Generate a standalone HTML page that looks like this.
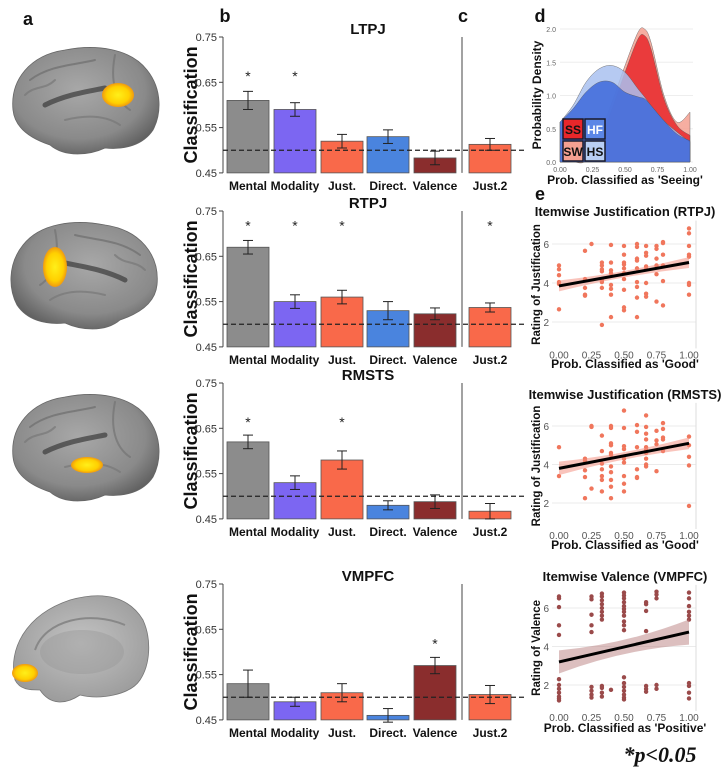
<!DOCTYPE html>
<html><head><meta charset="utf-8"><style>
html,body{margin:0;padding:0;background:#fff;}
svg{display:block;font-family:"Liberation Sans",Arial,sans-serif;}
</style></head><body>
<svg id="fig" width="721" height="774" viewBox="0 0 721 774" xmlns="http://www.w3.org/2000/svg">
<defs>
<radialGradient id="gbrain" cx="45%" cy="40%" r="65%"><stop offset="0" stop-color="#a8a8a8"/><stop offset="0.7" stop-color="#8a8a8a"/><stop offset="1" stop-color="#5e5e5e"/></radialGradient>
<radialGradient id="gmed" cx="50%" cy="45%" r="60%"><stop offset="0" stop-color="#c4c4c4"/><stop offset="1" stop-color="#9a9a9a"/></radialGradient>
<radialGradient id="gyel" cx="50%" cy="50%" r="50%"><stop offset="0" stop-color="#ffef1a"/><stop offset="0.7" stop-color="#ffd000"/><stop offset="1" stop-color="#f09a10"/></radialGradient>
</defs>
<g id="brains"></g>
<g id="bars"></g>
<g id="dens"></g>
<g id="scat"></g>
<text x="660" y="762" text-anchor="middle" font-family="Liberation Serif,serif" font-style="italic" font-weight="bold" font-size="22" fill="#111">*p&lt;0.05</text>
</svg>
<script>
const NS="http://www.w3.org/2000/svg";
function mk(parent,tag,attrs,txt){const e=document.createElementNS(NS,tag);for(const k in attrs)e.setAttribute(k,attrs[k]);if(txt!==undefined)e.textContent=txt;parent.appendChild(e);return e;}

// ---------- bar chart data ----------
const categories=["Mental","Modality","Just.","Direct.","Valence","Just.2"];
const regions=["LTPJ","RTPJ","RMSTS","VMPFC"];
const ltpjValues=[0.61,0.59,0.52,0.53,0.483,0.513];
const ltpjErrors=[0.02,0.015,0.015,0.015,0.015,0.013];
const ltpjSig=[1,1,0,0,0,0];
const rtpjValues=[0.67,0.55,0.56,0.53,0.523,0.537];
const rtpjErrors=[0.015,0.015,0.015,0.02,0.013,0.01];
const rtpjSig=[1,1,1,0,0,1];
const rmstsValues=[0.62,0.53,0.58,0.48,0.488,0.467];
const rmstsErrors=[0.015,0.015,0.02,0.01,0.015,0.017];
const rmstsSig=[1,0,1,0,0,0];
const vmpfcValues=[0.53,0.49,0.51,0.46,0.57,0.506];
const vmpfcErrors=[0.03,0.01,0.02,0.015,0.018,0.02];
const vmpfcSig=[0,0,0,0,1,0];
const starLevels=[0.67,0.725,0.67,0.625];
const yTicks=[0.75,0.65,0.55,0.45];
const chanceLevel=0.5;

// ---------- density data ----------
const densX=[0,0.1,0.2,0.3,0.4,0.5,0.6,0.65,0.7,0.8,0.9,1.0];
const densHS=[0.6,0.85,1.2,1.4,1.45,1.35,1.1,0.98,0.85,0.62,0.45,0.3];
const densHF=[0.6,0.8,1.05,1.2,1.2,1.05,0.98,0.95,0.85,0.62,0.42,0.32];
const densSW=[0,0,0.02,0.4,0.9,1.45,1.95,2.0,1.8,1.0,0.6,0.75];
const densSS=[0,0,0.02,0.3,0.8,1.35,1.85,1.9,1.7,0.95,0.55,0.4];
const densTicksX=[0,0.25,0.5,0.75,1.0];
const densTicksY=[0,0.5,1.0,1.5,2.0];

// ---------- scatter data ----------
const rtpjX=[0,0,0,0,0,0, .2,.2,.2,.2,.2, .25, .33,.33,.33,.33,.33,.33,.33,.33, .4,.4,.4,.4,.4,.4,.4,.4, .5,.5,.5,.5,.5,.5,.5,.5,.5,.5, .6,.6,.6,.6,.6,.6,.6,.6,.6, .67,.67,.67,.67,.67,.67,.67,.67, .75,.75,.75,.75,.75,.75, .8,.8,.8,.8,.8,.8, 1,1,1,1,1,1,1,1];
const rtpjY=[4.9,4.7,4.4,4.05,3.95,2.65, 5.65,4.2,3.75,3.4,3.35, 6.0, 5.05,4.9,4.7,4.6,4.15,4.05,3.75,1.85, 5.95,5.05,4.65,4.5,3.9,3.7,3.4,2.25, 5.9,5.45,5.05,4.95,4.75,4.5,4.2,3.65,2.75,2.6, 6.0,5.85,5.25,5.15,4.75,4.05,3.8,3.25,2.25, 5.9,5.55,5.4,4.85,4.7,4.0,3.45,3.3, 5.9,5.75,5.25,4.9,4.45,3.05, 6.1,6.05,5.45,4.9,4.1,2.85, 6.8,6.55,5.9,5.45,5.35,4.0,3.9,3.4];
const rtpjFit=[3.85,5.05];
const rtpjCI=[0.28,0.28];
const rmstsX=[0,0, .2,.2,.2,.2,.2, .25,.25,.25, .33,.33,.33,.33,.33,.33,.33, .4,.4,.4,.4,.4,.4,.4,.4,.4,.4,.4, .5,.5,.5,.5,.5,.5,.5,.5,.5, .6,.6,.6,.6,.6,.6, .67,.67,.67,.67,.67,.67,.67,.67,.67,.67, .75,.75,.75,.75, .8,.8,.8,.8,.8, 1,1,1,1,1];
const rmstsY=[4.9,3.4, 4.3,4.2,3.7,3.35,2.25, 6.0,5.95,2.75, 5.5,4.7,4.05,3.75,3.4,3.2,2.6, 6.0,5.9,5.1,5.0,4.6,4.5,3.9,3.6,3.2,2.85,2.25, 6.8,5.9,4.95,4.8,4.3,4.1,3.4,3.0,2.6, 6.05,5.7,4.9,3.75,3.35,3.3, 6.55,5.95,5.6,5.3,4.9,4.75,4.6,4.3,4.0,3.9, 5.75,5.25,5.05,3.65, 6.15,5.85,5.4,5.3,4.7, 5.45,5.0,4.4,3.95,1.85];
const rmstsFit=[3.8,5.1];
const rmstsCI=[0.35,0.3];
const vmpfcX=[0,0,0,0,0,0,0,0,0,0,0,0, .25,.25,.25,.25,.25,.25,.25,.25,.25, .33,.33,.33,.33,.33,.33,.33,.33,.33,.33,.33,.33, .4, .5,.5,.5,.5,.5,.5,.5,.5,.5,.5,.5,.5,.5,.5,.5,.5,.5,.5, .67,.67,.67,.67,.67,.67,.67, .75,.75,.75,.75,.75, 1,1,1,1,1,1,1,1,1,1];
const vmpfcY=[6.6,6.5,6.05,5.1,4.6,2.3,2.0,1.8,1.6,1.4,1.3,1.2, 6.6,6.45,5.65,5.1,4.75,1.9,1.7,1.5,1.35, 6.75,6.6,6.4,6.2,6.0,5.8,5.6,5.4,1.95,1.85,1.6,1.4, 1.75, 6.8,6.65,6.5,6.3,6.1,5.95,5.8,5.6,5.3,5.1,4.85,2.4,2.1,1.9,1.7,1.5,1.35,1.25, 6.3,6.2,5.85,4.8,1.95,1.8,1.65, 6.85,6.7,6.5,2.0,1.8, 6.8,6.5,6.1,5.8,5.6,5.4,2.1,1.95,1.6,1.3];
const vmpfcFit=[3.2,4.75];
const vmpfcCI=[0.6,0.65];
const scatTicksX=[0,0.25,0.5,0.75,1.0];
const scatTicksY=[2,4,6];

const svg=document.getElementById('fig');

// ---------- panel letters ----------
[["a",28,25],["b",225,22],["c",463,22],["d",540,22],["e",540,200]].forEach(p=>{
  const t=mk(svg,'text',{x:p[1],y:p[2],'font-size':18,'font-weight':'bold',fill:'#111','text-anchor':'middle'},p[0]);
  
  
});

// ---------- brains ----------
const gB=document.getElementById('brains');
function lateral(cx,cy,flip,blob){
  const g=mk(gB,'g',{transform:`translate(${cx},${cy}) scale(${flip},1)`});
  
  
  mk(g,'path',{d:"M-72,10 C-75,-20 -55,-45 -20,-50 C10,-56 45,-52 62,-30 C78,-10 76,15 68,30 C58,45 40,50 20,48 C5,55 -20,58 -35,45 C-50,40 -70,30 -72,10 Z",fill:'url(#gbrain)',stroke:'#666','stroke-width':0.8});
  [["M-55,-20 C-35,-35 -10,-35 10,-40","#6d6d6d"],["M-40,5 C-20,-5 0,-8 20,-12","#3a3a3a"],["M-20,20 C0,15 20,15 35,25","#777"],["M30,-45 C25,-20 30,0 45,10","#737373"],["M-60,-5 C-50,-15 -40,-10 -30,-20","#777"]].forEach(s=>mk(g,'path',{d:s[0],fill:'none',stroke:s[1],'stroke-width':s[1]=="#3a3a3a"?5:2,'stroke-linecap':'round',opacity:0.7}));
  const b=mk(g,'ellipse',{cx:blob[0],cy:blob[1],rx:blob[2],ry:blob[3],fill:'url(#gyel)'});
  
  
}
lateral(85,100,1,[33,-5,16,12]);
lateral(85,275,-1,[30,-8,12,20]);
lateral(85,447,1,[2,18,16,8]);
(function(){
  const g=mk(gB,'g',{});
  
  
  mk(g,'path',{d:"M15,680 C8,650 25,615 70,600 C105,590 130,598 143,620 C152,640 150,665 140,680 C130,695 100,700 80,695 C65,705 50,705 40,690 C30,690 20,690 15,680 Z",fill:'url(#gmed)',stroke:'#777','stroke-width':0.8});
  mk(g,'ellipse',{cx:82,cy:652,rx:42,ry:22,fill:'#999',opacity:0.45});
  mk(g,'path',{d:"M35,650 C45,620 90,610 125,625",fill:'none',stroke:'#888','stroke-width':2});
  const b=mk(g,'ellipse',{cx:25,cy:673,rx:13,ry:9,fill:'url(#gyel)'});
  
  
})();

// ---------- bar panels ----------
const gBars=document.getElementById('bars');
const rowTop=[37,211,383,584];
const colors=["#8c8c8c","#7c66f2","#f9694a","#4a84de","#8a2d2d","#f9694a"];
const barCx=[248,295,342,388,435,490];
const barW=42;
const vals=[ltpjValues,rtpjValues,rmstsValues,vmpfcValues];
const errs=[ltpjErrors,rtpjErrors,rmstsErrors,vmpfcErrors];
const sigs=[ltpjSig,rtpjSig,rmstsSig,vmpfcSig];
regions.forEach((reg,r)=>{
  const top=rowTop[r];
  const yS=v=>top+(0.75-v)*453;
  const bot=yS(0.45);
  const g=mk(gBars,'g',{});
  
  
  const t=mk(g,'text',{x:368,y:top-3,'text-anchor':'middle','font-size':15,'font-weight':'bold',fill:'#111'},reg);
  
  
  const yl=mk(g,'text',{x:0,y:0,transform:`translate(197,${(top+bot)/2}) rotate(-90)`,'text-anchor':'middle','font-size':18,'font-weight':'bold',fill:'#111'},'Classification');
  
  
  mk(g,'line',{x1:223,y1:top,x2:223,y2:bot,stroke:'#444','stroke-width':1});
  mk(g,'line',{x1:462,y1:top,x2:462,y2:bot,stroke:'#444','stroke-width':1});
  yTicks.forEach(v=>{
    mk(g,'line',{x1:219,y1:yS(v),x2:223,y2:yS(v),stroke:'#444'});
    const tl=mk(g,'text',{x:217,y:yS(v)+4,'text-anchor':'end','font-size':11,fill:'#333'},v.toFixed(2));
    
    
  });
  categories.forEach((c,i)=>{
    const v=vals[r][i],e=errs[r][i],x=barCx[i];
    const b=mk(g,'rect',{x:x-barW/2,y:yS(v),width:barW,height:bot-yS(v),fill:colors[i],stroke:'#555','stroke-width':0.8});
    
    
    mk(g,'line',{x1:x,y1:yS(v+e),x2:x,y2:yS(v-e),stroke:'#222'});
    mk(g,'line',{x1:x-5,y1:yS(v+e),x2:x+5,y2:yS(v+e),stroke:'#222'});
    mk(g,'line',{x1:x-5,y1:yS(v-e),x2:x+5,y2:yS(v-e),stroke:'#222'});
    if(sigs[r][i]){
      const s=mk(g,'text',{x:x,y:yS(starLevels[r])+8,'text-anchor':'middle','font-size':14,fill:'#222'},'*');
      
      
    }
    const lb=mk(g,'text',{x:x,y:bot+17,'text-anchor':'middle','font-size':12,'font-weight':'bold',fill:'#111'},c);
    
    
  });
  const d=mk(g,'line',{x1:223,y1:yS(chanceLevel),x2:524,y2:yS(chanceLevel),stroke:'#222','stroke-dasharray':'5,3','stroke-width':1.2});
  
  
});

// ---------- density ----------
(function(){
  const g=document.getElementById('dens');
  
  
  const xS=v=>560+v*130, yS=v=>162-v*66.5;
  densTicksY.forEach(v=>{
    mk(g,'line',{x1:560,y1:yS(v),x2:693,y2:yS(v),stroke:'#eee'});
    mk(g,'text',{x:556,y:yS(v)+3,'text-anchor':'end','font-size':7,fill:'#666'},v.toFixed(1));
  });
  densTicksX.forEach(v=>mk(g,'text',{x:xS(v),y:172,'text-anchor':'middle','font-size':7,fill:'#666'},v.toFixed(2)));
  function area(ys,col,name){
    const pts=densX.map((x,i)=>[xS(x),yS(ys[i])]);
    let d=`M${xS(densX[0])},${yS(0)} L${pts[0][0]},${pts[0][1]}`;
    for(let i=0;i<pts.length-1;i++){
      const p0=pts[Math.max(0,i-1)],p1=pts[i],p2=pts[i+1],p3=pts[Math.min(pts.length-1,i+2)];
      d+=` C${p1[0]+(p2[0]-p0[0])/6},${p1[1]+(p2[1]-p0[1])/6} ${p2[0]-(p3[0]-p1[0])/6},${p2[1]-(p3[1]-p1[1])/6} ${p2[0]},${p2[1]}`;
    }
    d+=` L${xS(1)},${yS(0)} Z`;
    const p=mk(g,'path',{d:d,fill:col,'fill-opacity':0.85,stroke:'#555','stroke-width':0.4});
    
    
  }
  area(densSW,'#f4a091','density-sw');
  area(densSS,'#e8272a','density-ss');
  area(densHS,'#a9c1f0','density-hs');
  area(densHF,'#3d68db','density-hf');
  const yl=mk(g,'text',{x:0,y:0,transform:'translate(541,95) rotate(-90)','text-anchor':'middle','font-size':12,'font-weight':'bold',fill:'#111'},'Probability Density');
  
  
  const xl=mk(g,'text',{x:625,y:184,'text-anchor':'middle','font-size':12,'font-weight':'bold',fill:'#111'},"Prob. Classified as 'Seeing'");
  
  
  [["SS","#e8272a",563,119,"#111"],["HF","#5b86e6",585,119,"#fff"],["SW","#f4a091",563,141,"#111"],["HS","#b9cff5",585,141,"#111"]].forEach(l=>{
    const lg=mk(g,'g',{});
    
    
    mk(lg,'rect',{x:l[2],y:l[3],width:20,height:20,fill:l[1],stroke:'#1a1a2a','stroke-width':1.5});
    mk(lg,'text',{x:l[2]+10,y:l[3]+15,'text-anchor':'middle','font-size':12,'font-weight':'bold',fill:l[4]},l[0]);
  });
})();

// ---------- scatter ----------
const gS=document.getElementById('scat');
function scatter(cfg){
  const g=mk(gS,'g',{});
  
  
  const xS=v=>559+v*130;
  const u=(cfg.y2-cfg.y6)/4;
  const yS=v=>cfg.y6+(6-v)*u;
  const top=yS(7.2), bot=yS(0.65);
  scatTicksY.forEach(v=>{
    mk(g,'line',{x1:552,y1:yS(v),x2:696,y2:yS(v),stroke:'#ebebeb'});
    mk(g,'text',{x:549,y:yS(v)+4,'text-anchor':'end','font-size':10,fill:'#555'},v);
  });
  mk(g,'line',{x1:696,y1:top,x2:696,y2:bot,stroke:'#ddd'});
  scatTicksX.forEach(v=>mk(g,'text',{x:xS(v),y:bot+10,'text-anchor':'middle','font-size':10,fill:'#555'},v.toFixed(2)));
  cfg.xs.forEach((x,i)=>{
    const c=mk(g,'circle',{cx:xS(x),cy:yS(cfg.ys[i]),r:2.2,fill:cfg.col});
    
    
  });
  const f=cfg.fit,ci=cfg.ci;
  const band=`M${xS(0)},${yS(f[0]+ci[0])} Q${xS(0.5)},${yS((f[0]+f[1])/2+Math.min(ci[0],ci[1])*0.2)} ${xS(1)},${yS(f[1]+ci[1])} L${xS(1)},${yS(f[1]-ci[1])} Q${xS(0.5)},${yS((f[0]+f[1])/2-Math.min(ci[0],ci[1])*0.2)} ${xS(0)},${yS(f[0]-ci[0])} Z`;
  const b=mk(g,'path',{d:band,fill:cfg.band,'fill-opacity':0.5});
  
  
  const l=mk(g,'line',{x1:xS(0),y1:yS(f[0]),x2:xS(1),y2:yS(f[1]),stroke:'#000','stroke-width':3});
  
  
  const t=mk(g,'text',{x:625,y:cfg.ty,'text-anchor':'middle','font-size':13,'font-weight':'bold',fill:'#111'},cfg.title);
  
  
  const yl=mk(g,'text',{x:0,y:0,transform:`translate(540,${(top+bot)/2}) rotate(-90)`,'text-anchor':'middle','font-size':11.5,'font-weight':'bold',fill:'#111'},cfg.ylab);
  
  
  const xl=mk(g,'text',{x:625,y:cfg.xly,'text-anchor':'middle','font-size':12,'font-weight':'bold',fill:'#111'},cfg.xlab);
  
  
}
scatter({name:'scatter-rtpj',xs:rtpjX,ys:rtpjY,fit:rtpjFit,ci:rtpjCI,y6:244,y2:322,ty:216,xly:368,col:'#f0765c',band:'#f48a7a',title:'Itemwise Justification (RTPJ)',ylab:'Rating of  Justification',xlab:"Prob. Classified as 'Good'"});
scatter({name:'scatter-rmsts',xs:rmstsX,ys:rmstsY,fit:rmstsFit,ci:rmstsCI,y6:426,y2:503,ty:399,xly:549,col:'#f0765c',band:'#f48a7a',title:'Itemwise Justification (RMSTS)',ylab:'Rating of  Justification',xlab:"Prob. Classified as 'Good'"});
scatter({name:'scatter-vmpfc',xs:vmpfcX,ys:vmpfcY,fit:vmpfcFit,ci:vmpfcCI,y6:608,y2:685,ty:581,xly:732,col:'#9a4a4a',band:'#b98080',title:'Itemwise Valence (VMPFC)',ylab:'Rating of Valence',xlab:"Prob. Classified as 'Positive'"});
</script>
</body></html>
